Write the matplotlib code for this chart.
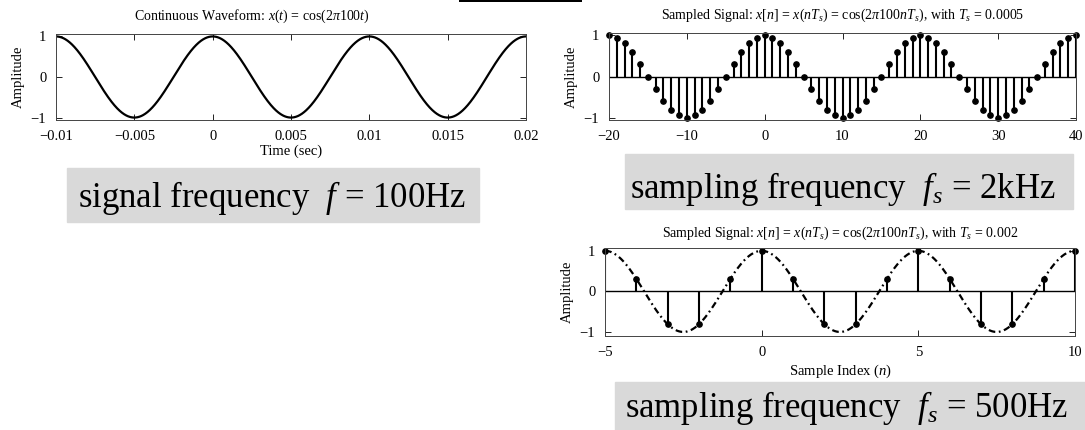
import numpy as np
import matplotlib.pyplot as plt
from matplotlib.patches import Rectangle

plt.rcParams['font.family'] = ['Liberation Serif', 'DejaVu Serif']
plt.rcParams['mathtext.fontset'] = 'custom'
plt.rcParams['mathtext.rm'] = 'Liberation Serif'
plt.rcParams['mathtext.it'] = 'Liberation Serif:italic'

# signal: x(t) = cos(2*pi*f0*t)
f0 = 100
t_range = [-0.01, 0.02]
t_ticks = [-0.01, -0.005, 0, 0.005, 0.01, 0.015, 0.02]
t_ticklabels = ['\u22120.01', '\u22120.005', '0', '0.005', '0.01', '0.015', '0.02']

# sampled with Ts = 0.0005 (fs = 2kHz), n = -20..40
n_fast = list(range(-20, 41))
x_fast = [1, 0.95, 0.81, 0.59, 0.31, 0, -0.31, -0.59, -0.81, -0.95,
          -1, -0.95, -0.81, -0.59, -0.31, 0, 0.31, 0.59, 0.81, 0.95,
          1, 0.95, 0.81, 0.59, 0.31, 0, -0.31, -0.59, -0.81, -0.95,
          -1, -0.95, -0.81, -0.59, -0.31, 0, 0.31, 0.59, 0.81, 0.95,
          1, 0.95, 0.81, 0.59, 0.31, 0, -0.31, -0.59, -0.81, -0.95,
          -1, -0.95, -0.81, -0.59, -0.31, 0, 0.31, 0.59, 0.81, 0.95,
          1]
fast_ticks = [-20, -10, 0, 10, 20, 30, 40]

# sampled with Ts = 0.002 (fs = 500Hz), n = -5..10
n_slow = list(range(-5, 11))
x_slow = [1, 0.31, -0.81, -0.81, 0.31, 1, 0.31, -0.81, -0.81, 0.31,
          1, 0.31, -0.81, -0.81, 0.31, 1]
slow_ticks = [-5, 0, 5, 10]
Ts_slow = 0.002

W, H = 1085, 430


def px_axes(fig, x0, y0, x1, y1):
    return fig.add_axes([x0 / W, 1 - y1 / H, (x1 - x0) / W, (y1 - y0) / H])


def style_axes(ax):
    ax.tick_params(direction='in', top=True, right=True, length=4, width=0.7,
                   labelsize=10.5, pad=7, colors='#222222', labelcolor='black')
    for s in ax.spines.values():
        s.set_linewidth(0.7)
        s.set_color('#444444')
    ax.set_yticks([-1, 0, 1])
    ax.set_yticklabels(['\u22121', '0', '1'])
    ax.set_ylabel('Amplitude', fontsize=10.5, labelpad=4)


def gray_box(fig, x0, y0, x1, y1):
    fig.add_artist(Rectangle((x0 / W, 1 - y1 / H), (x1 - x0) / W, (y1 - y0) / H,
                             transform=fig.transFigure, color='#d9d9d9', zorder=0))


fig = plt.figure(figsize=(W / 100, H / 100), dpi=100)

# continuous waveform
ax1 = px_axes(fig, 56, 34, 526, 120)
t = np.linspace(t_range[0], t_range[1], 1500)
ax1.plot(t, np.cos(2 * np.pi * f0 * t), color='black', lw=1.6)
ax1.set_xlim(t_range)
ax1.set_ylim(-1.06, 1.06)
style_axes(ax1)
ax1.set_xticks(t_ticks)
ax1.set_xticklabels(t_ticklabels)
ax1.set_xlabel('Time (sec)', fontsize=10.5, labelpad=1)
ax1.set_title(r'Continuous Waveform: $x(t)$ = cos(2$\pi$100$t$)', fontsize=10,
              pad=10, x=0.417)

# sampled, fs = 2kHz
ax2 = px_axes(fig, 609, 33, 1076, 120)
m, s, b = ax2.stem(n_fast, x_fast, linefmt='k-', markerfmt='ko', basefmt='k-')
s.set_linewidth(1.5)
m.set_markersize(3.8)
m.set_clip_on(False)
b.set_linewidth(1.0)
ax2.set_xlim(-20, 40)
ax2.set_ylim(-1.06, 1.06)
style_axes(ax2)
ax2.set_xticks(fast_ticks)
ax2.set_xticklabels([str(v).replace('-', '\u2212') for v in fast_ticks])
ax2.set_title(r'Sampled Signal: $x[n]$ = $x(nT_s)$ = cos(2$\pi$100$nT_s$), with $T_s$ = 0.0005',
              fontsize=10, pad=10)

# sampled, fs = 500Hz
ax3 = px_axes(fig, 605, 248, 1075, 336)
nn = np.linspace(-5, 10, 800)
ax3.plot(nn, np.cos(2 * np.pi * f0 * nn * Ts_slow), color='black', lw=1.6,
         dashes=[3, 1.6, 0.8, 1.6])
m, s, b = ax3.stem(n_slow, x_slow, linefmt='k-', markerfmt='ko', basefmt='k-')
s.set_linewidth(1.5)
m.set_markersize(3.8)
m.set_clip_on(False)
b.set_linewidth(1.0)
ax3.set_xlim(-5, 10)
ax3.set_ylim(-1.1, 1.07)
style_axes(ax3)
ax3.set_xticks(slow_ticks)
ax3.set_xticklabels([str(v).replace('-', '\u2212') for v in slow_ticks])
ax3.set_xlabel('Sample Index ($n$)', fontsize=10.5, labelpad=3)
ax3.set_title(r'Sampled Signal: $x[n]$ = $x(nT_s)$ = cos(2$\pi$100$nT_s$), with $T_s$ = 0.002',
              fontsize=10, pad=8)

# annotation boxes
gray_box(fig, 67, 168, 479, 222)
fig.text(78 / W, 1 - 207 / H, r'signal frequency  $f$ = 100Hz', fontsize=25,
         va='baseline', ha='left')
gray_box(fig, 625, 154, 1073, 209)
fig.text(630 / W, 1 - 198 / H, r'sampling frequency  $f_s$ = 2kHz', fontsize=25,
         va='baseline', ha='left')
gray_box(fig, 615, 382, 1085, 430)
fig.text(625 / W, 1 - 417 / H, r'sampling frequency  $f_s$ = 500Hz', fontsize=25,
         va='baseline', ha='left')

# thin black bar at the top edge
fig.add_artist(Rectangle((459 / W, 1 - 1.5 / H), 123 / W, 1.5 / H,
                         transform=fig.transFigure, color='black', lw=0))

fig.savefig('out.png', dpi=100)
